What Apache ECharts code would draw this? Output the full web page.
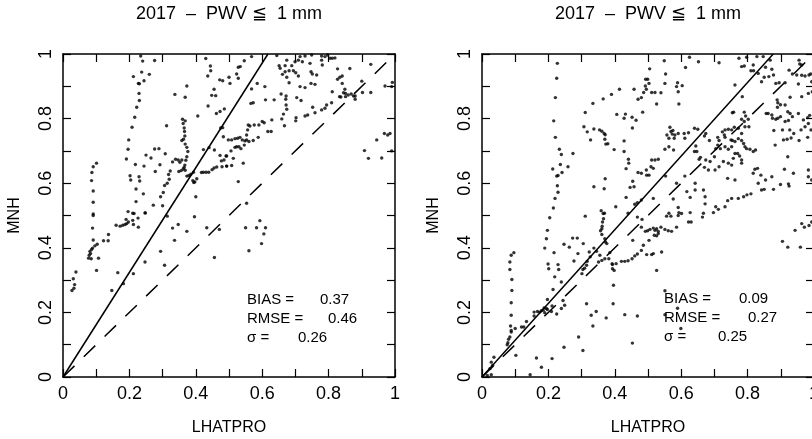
<!DOCTYPE html>
<html><head><meta charset="utf-8">
<script src="https://cdn.jsdelivr.net/npm/echarts@6/dist/echarts.min.js"></script>
<style>html,body{margin:0;padding:0;background:#fff}#c{width:812px;height:439px}</style>
</head><body><div id="c"></div>
<script>
const titleText = '2017  \u2013  PWV \u2266  1 mm';
const xName = 'LHATPRO';
const yName = 'MNH';
const axisMin = 0, axisMax = 1, axisStep = 0.2;
const leftStats = [['BIAS =', '0.37'], ['RMSE =', '0.46'], ['\u03c3 =', '0.26']];
const rightStats = [['BIAS =', '0.09'], ['RMSE =', '0.27'], ['\u03c3 =', '0.25']];
const leftFitSlope = 1.62;
const rightFitSlope = 1.14;
const identitySlope = 1;

const leftPoints = [
[0.234,0.994],[0.240,0.978],[0.276,0.980],[0.212,0.930],[0.237,0.944],[0.260,0.937],[0.244,0.917],[0.227,0.909],[0.230,0.908],[0.229,0.878],
[0.230,0.856],[0.222,0.835],[0.216,0.804],[0.208,0.773],[0.198,0.734],[0.196,0.705],[0.191,0.675],[0.218,0.658],[0.202,0.623],[0.204,0.610],
[0.229,0.620],[0.231,0.607],[0.220,0.582],[0.242,0.567],[0.220,0.543],[0.196,0.512],[0.210,0.507],[0.248,0.508],
[0.091,0.651],[0.101,0.662],[0.087,0.633],[0.086,0.608],[0.091,0.576],[0.091,0.541],[0.091,0.505],
[0.272,0.532],[0.300,0.530],[0.294,0.558],[0.302,0.571],[0.306,0.593],[0.314,0.600],[0.320,0.612],[0.318,0.627],[0.323,0.638],[0.330,0.666],
[0.339,0.674],[0.347,0.672],[0.352,0.665],[0.349,0.636],[0.356,0.639],[0.362,0.644],[0.368,0.640],[0.373,0.622],[0.379,0.624],[0.385,0.628],
[0.393,0.634],[0.391,0.608],[0.394,0.602],[0.397,0.604],[0.403,0.614],[0.400,0.558],[0.365,0.649],[0.367,0.656],[0.358,0.672],[0.370,0.671],
[0.373,0.682],[0.376,0.698],[0.373,0.711],[0.368,0.721],[0.363,0.736],[0.358,0.732],[0.367,0.746],[0.366,0.760],[0.365,0.771],[0.362,0.785],
[0.360,0.798],[0.368,0.793],[0.337,0.875],[0.368,0.866],[0.373,0.901],[0.406,0.808],[0.312,0.778],[0.289,0.707],[0.276,0.706],[0.250,0.687],
[0.265,0.678],[0.244,0.653],[0.292,0.657],[0.308,0.691],[0.278,0.636],
[0.430,0.986],[0.444,0.963],[0.445,0.948],[0.436,0.932],[0.472,0.920],[0.481,0.917],[0.455,0.891],[0.448,0.872],[0.460,0.871],[0.437,0.839],
[0.462,0.816],[0.473,0.822],[0.486,0.830],[0.481,0.772],[0.475,0.771],[0.483,0.744],[0.440,0.710],[0.423,0.704],[0.456,0.703],[0.473,0.686],
[0.491,0.684],[0.485,0.672],[0.477,0.669],[0.479,0.651],[0.493,0.653],[0.455,0.647],[0.463,0.650],[0.449,0.642],[0.439,0.634],[0.431,0.634],
[0.423,0.634],[0.417,0.633],
[0.546,0.979],[0.568,0.992],[0.644,0.995],[0.651,0.964],[0.669,0.964],[0.674,0.981],[0.689,0.964],[0.699,0.976],[0.709,0.981],[0.721,0.976],
[0.714,0.992],[0.729,0.994],[0.749,0.997],[0.744,0.971],[0.779,0.994],[0.779,0.981],[0.781,0.966],[0.789,0.992],[0.797,0.997],[0.804,0.987],
[0.811,0.987],[0.819,0.988],[0.827,0.954],[0.864,0.955],[0.927,0.968],[0.534,0.961],[0.528,0.959],[0.523,0.938],[0.500,0.928],[0.503,0.909],
[0.528,0.925],[0.568,0.892],[0.585,0.909],[0.608,0.899],[0.654,0.956],[0.669,0.945],[0.681,0.948],[0.694,0.948],[0.701,0.942],[0.661,0.937],
[0.674,0.928],[0.681,0.911],[0.709,0.932],[0.747,0.945],[0.751,0.938],[0.764,0.935],[0.747,0.909],[0.759,0.906],[0.714,0.899],[0.729,0.896],
[0.834,0.928],[0.841,0.932],[0.827,0.922],[0.841,0.909],[0.849,0.891],[0.851,0.878],[0.859,0.873],[0.868,0.876],[0.875,0.870],[0.880,0.870],
[0.880,0.860],[0.845,0.880],[0.833,0.868],[0.837,0.867],[0.851,0.868],[0.811,0.883],[0.900,0.916],[0.902,0.881],[0.927,0.881],[0.970,0.901],
[0.990,0.899],[0.992,0.912],[0.566,0.847],[0.573,0.849],[0.610,0.858],[0.636,0.858],[0.657,0.876],[0.672,0.870],[0.671,0.860],[0.704,0.865],
[0.717,0.856],[0.672,0.842],[0.674,0.829],[0.664,0.814],[0.659,0.799],[0.667,0.778],[0.702,0.803],[0.701,0.793],[0.729,0.808],[0.737,0.811],
[0.752,0.835],[0.759,0.818],[0.779,0.827],[0.794,0.842],[0.809,0.849],[0.789,0.832],
[0.558,0.780],[0.563,0.777],[0.576,0.780],[0.590,0.780],[0.600,0.791],[0.606,0.787],[0.629,0.796],[0.617,0.760],[0.627,0.760],[0.556,0.765],
[0.553,0.749],[0.498,0.734],[0.508,0.734],[0.518,0.738],[0.526,0.739],[0.533,0.742],[0.540,0.734],[0.548,0.731],[0.553,0.734],[0.560,0.729],
[0.573,0.732],[0.588,0.742],[0.523,0.713],[0.530,0.713],[0.518,0.711],[0.536,0.707],[0.546,0.718],[0.493,0.684],[0.506,0.700],[0.513,0.677],
[0.493,0.653],[0.508,0.655],[0.543,0.662],[0.528,0.605],[0.553,0.538],
[0.908,0.701],[0.920,0.677],[0.945,0.734],[0.960,0.678],[0.968,0.754],[0.978,0.749],[0.985,0.754],[0.990,0.700],
[0.091,0.500],[0.089,0.461],[0.091,0.424],[0.103,0.411],[0.096,0.406],[0.089,0.399],[0.086,0.395],[0.081,0.389],[0.083,0.382],[0.079,0.377],
[0.077,0.368],[0.085,0.366],[0.107,0.368],[0.101,0.330],[0.122,0.422],[0.136,0.422],[0.137,0.441],[0.160,0.470],[0.172,0.467],[0.180,0.470],
[0.187,0.472],[0.192,0.475],[0.197,0.480],[0.190,0.488],[0.210,0.485],[0.212,0.472],[0.227,0.464],[0.226,0.492],[0.214,0.506],[0.247,0.508],
[0.027,0.268],[0.033,0.275],[0.035,0.286],[0.039,0.325],[0.031,0.304],
[0.147,0.268],[0.165,0.323],[0.182,0.289],[0.212,0.320],[0.247,0.356],[0.294,0.389],[0.306,0.346],[0.314,0.498],[0.330,0.461],[0.347,0.472],
[0.336,0.423],[0.373,0.451],[0.396,0.496],[0.433,0.462],[0.471,0.457],[0.456,0.370],
[0.593,0.484],[0.550,0.462],[0.583,0.462],[0.610,0.462],[0.605,0.443],[0.598,0.413],[0.560,0.391]
];

const rightPoints = [
[0.227,0.971],[0.225,0.925],[0.221,0.865],[0.216,0.793],[0.221,0.742],[0.233,0.705],[0.239,0.689],[0.274,0.692],[0.236,0.658],[0.259,0.651],
[0.241,0.633],[0.229,0.624],[0.225,0.622],[0.213,0.644],[0.227,0.592],[0.229,0.572],[0.220,0.553],[0.215,0.523],
[0.311,0.819],[0.334,0.847],[0.365,0.861],[0.390,0.875],[0.414,0.891],[0.458,0.891],[0.470,0.860],[0.480,0.865],[0.487,0.881],[0.492,0.901],
[0.493,0.922],[0.484,0.820],[0.406,0.813],[0.428,0.801],[0.432,0.814],[0.452,0.804],[0.464,0.795],[0.453,0.771],[0.307,0.775],[0.317,0.759],
[0.327,0.734],[0.337,0.768],[0.354,0.765],[0.361,0.761],[0.368,0.754],[0.371,0.750],[0.370,0.736],[0.373,0.721],[0.379,0.722],[0.398,0.704],
[0.428,0.731],[0.428,0.698],[0.441,0.674],[0.442,0.662],[0.434,0.645],[0.470,0.633],[0.480,0.631],[0.495,0.641],[0.454,0.606],[0.458,0.589],
[0.446,0.587],[0.434,0.556],[0.337,0.589],[0.368,0.583],[0.371,0.614],[0.403,0.527],[0.359,0.515],[0.369,0.507],[0.440,0.507],[0.460,0.535],
[0.468,0.540],[0.480,0.548],
[0.549,0.979],[0.625,0.990],[0.652,0.976],[0.714,0.973],[0.613,0.958],[0.505,0.954],[0.499,0.922],[0.503,0.909],[0.553,0.938],[0.551,0.909],
[0.589,0.911],[0.586,0.899],[0.603,0.902],[0.591,0.883],[0.511,0.881],[0.521,0.881],[0.539,0.880],[0.495,0.891],[0.526,0.845],[0.593,0.845],
[0.774,0.987],[0.782,0.961],[0.790,0.963],[0.797,0.990],[0.817,0.966],[0.810,0.948],[0.818,0.948],[0.832,0.940],[0.828,0.992],[0.847,0.992],
[0.868,0.981],[0.854,0.959],[0.873,0.953],[0.878,0.935],[0.885,0.909],[0.895,0.911],[0.850,0.928],[0.842,0.914],[0.864,0.930],[0.913,0.911],
[0.955,0.981],[0.957,0.969],[0.963,0.966],[0.935,0.938],[0.948,0.935],[0.963,0.934],[0.973,0.932],[0.985,0.935],[0.990,0.938],[0.993,0.914],
[0.953,0.907],[0.925,0.950],[0.963,0.868],[0.983,0.878],[0.995,0.883],[0.889,0.858],[0.891,0.849],[0.899,0.843],[0.890,0.835],[0.913,0.842],
[0.928,0.866],[0.921,0.821],[0.928,0.816],[0.935,0.806],[0.923,0.794],[0.913,0.791],[0.899,0.806],[0.885,0.798],[0.875,0.801],[0.862,0.816],
[0.856,0.816],[0.873,0.811],[0.891,0.801],[0.879,0.763],[0.905,0.765],[0.919,0.736],[0.927,0.765],[0.931,0.740],[0.939,0.754],[0.955,0.732],
[0.961,0.765],[0.973,0.775],[0.983,0.785],[0.981,0.742],[0.991,0.765],[0.953,0.816],[0.968,0.796],[0.981,0.803],[0.987,0.810],[0.908,0.734],
[0.883,0.718],[0.921,0.682],[0.911,0.643],[0.938,0.631],[0.983,0.641],[0.983,0.620],[0.993,0.610],[0.923,0.598],[0.925,0.591],[0.899,0.596],
[0.878,0.581],[0.850,0.581],[0.842,0.579],[0.832,0.600],[0.822,0.643],[0.817,0.631],[0.830,0.646],
[0.762,0.904],[0.784,0.868],[0.754,0.818],[0.758,0.820],[0.790,0.820],[0.794,0.808],[0.782,0.798],[0.790,0.791],[0.802,0.798],[0.792,0.775],
[0.804,0.775],[0.772,0.770],[0.760,0.773],[0.752,0.765],[0.742,0.767],[0.732,0.765],[0.724,0.759],[0.730,0.749],[0.710,0.742],[0.732,0.742],
[0.714,0.732],[0.710,0.718],[0.704,0.707],[0.718,0.707],[0.732,0.713],[0.742,0.705],[0.750,0.734],[0.754,0.732],[0.762,0.729],[0.772,0.738],
[0.782,0.732],[0.788,0.723],[0.792,0.713],[0.797,0.707],[0.807,0.705],[0.817,0.698],[0.824,0.703],[0.782,0.754],[0.752,0.713],[0.762,0.692],
[0.770,0.692],[0.776,0.684],[0.782,0.672],[0.757,0.677],[0.752,0.656],[0.782,0.662],[0.700,0.682],[0.687,0.667],[0.674,0.672],[0.658,0.680],
[0.647,0.698],[0.644,0.715],[0.685,0.732],[0.670,0.746],[0.674,0.754],[0.650,0.767],[0.640,0.770],[0.622,0.756],[0.609,0.754],[0.591,0.754],
[0.575,0.763],[0.566,0.773],[0.569,0.760],[0.557,0.749],[0.563,0.739],[0.579,0.739],[0.573,0.752],[0.581,0.749],[0.563,0.713],[0.551,0.705],
[0.577,0.703],[0.511,0.672],[0.521,0.672],[0.531,0.674],[0.509,0.651],[0.516,0.646],[0.503,0.625],[0.496,0.625],[0.611,0.739],[0.640,0.698],
[0.654,0.674],[0.670,0.649],[0.682,0.641],[0.714,0.651],[0.727,0.667],[0.742,0.662],[0.702,0.641],[0.642,0.600],[0.617,0.574],[0.586,0.600],
[0.553,0.622],[0.611,0.622],[0.516,0.553],[0.576,0.551],[0.591,0.525],[0.627,0.556],[0.642,0.579],[0.667,0.579],[0.672,0.558],[0.672,0.536],
[0.704,0.527],[0.712,0.519],[0.732,0.527],[0.740,0.546],[0.752,0.553],[0.772,0.553],[0.788,0.558],[0.798,0.564],[0.810,0.567],[0.762,0.610],
[0.740,0.615],[0.840,0.625],[0.873,0.620],[0.854,0.610],[0.667,0.507],[0.627,0.509],[0.593,0.509],[0.563,0.507],
[0.365,0.506],[0.366,0.490],[0.363,0.480],[0.362,0.467],[0.361,0.459],[0.357,0.453],[0.361,0.441],[0.370,0.428],[0.372,0.418],[0.376,0.413],
[0.204,0.493],[0.311,0.498],[0.197,0.454],[0.194,0.428],[0.189,0.399],[0.199,0.350],[0.201,0.335],[0.217,0.385],[0.229,0.348],[0.231,0.333],
[0.247,0.411],[0.219,0.310],[0.239,0.294],[0.273,0.430],[0.287,0.430],[0.263,0.402],[0.305,0.413],[0.289,0.382],[0.277,0.359],[0.214,0.271],
[0.197,0.240],[0.244,0.237],[0.323,0.387],[0.326,0.372],[0.317,0.358],[0.315,0.346],[0.304,0.333],[0.301,0.320],[0.309,0.337],[0.337,0.399],
[0.345,0.389],[0.355,0.377],[0.351,0.356],[0.361,0.361],[0.370,0.366],[0.385,0.385],[0.382,0.366],[0.393,0.348],[0.393,0.335],[0.398,0.330],
[0.404,0.351],[0.392,0.351],[0.396,0.284],[0.420,0.358],[0.430,0.358],[0.440,0.360],[0.452,0.366],[0.460,0.375],[0.468,0.381],[0.480,0.392],
[0.486,0.408],[0.468,0.495],[0.482,0.488],[0.480,0.464],[0.492,0.451],[0.454,0.423],
[0.096,0.385],[0.088,0.377],[0.084,0.356],[0.084,0.333],[0.090,0.302],[0.090,0.268],[0.088,0.230],[0.088,0.191],[0.086,0.158],[0.088,0.139],
[0.084,0.124],[0.080,0.117],[0.078,0.106],[0.076,0.100],[0.088,0.144],[0.100,0.150],[0.102,0.067],[0.119,0.155],[0.134,0.172],[0.126,0.155],
[0.157,0.189],[0.167,0.203],[0.174,0.201],[0.179,0.205],[0.184,0.207],[0.187,0.214],[0.194,0.212],[0.197,0.209],[0.211,0.220],[0.157,0.201],
[0.189,0.199],[0.209,0.203],[0.225,0.195],[0.239,0.212],[0.249,0.222],
[0.036,0.061],[0.028,0.046],[0.032,0.036],[0.024,0.026],[0.016,0.005],[0.028,0.007],[0.164,0.059],[0.179,0.030],[0.211,0.057],[0.247,0.092],
[0.291,0.124],[0.304,0.082],[0.315,0.227],[0.329,0.191],[0.334,0.158],[0.344,0.203],[0.374,0.183],[0.395,0.227],[0.430,0.193],[0.468,0.189],
[0.453,0.105],[0.145,0.007],
[0.556,0.498],[0.569,0.498],[0.591,0.500],[0.601,0.506],[0.622,0.480],[0.630,0.480],[0.664,0.495],[0.697,0.509],[0.499,0.453],[0.506,0.457],
[0.516,0.461],[0.521,0.454],[0.526,0.459],[0.531,0.451],[0.539,0.464],[0.551,0.457],[0.561,0.453],[0.571,0.451],[0.586,0.464],[0.519,0.439],
[0.526,0.437],[0.531,0.444],[0.503,0.423],[0.496,0.379],[0.511,0.379],[0.516,0.382],[0.541,0.387],[0.526,0.330],[0.551,0.267],[0.551,0.193],
[0.599,0.150],[0.589,0.213],[0.905,0.420],[0.921,0.402],[0.943,0.454],[0.959,0.402],[0.963,0.475],[0.971,0.464],[0.985,0.469],[0.993,0.480]
];

const FONT = '"Liberation Sans", Arial, Helvetica, sans-serif';
const grids = [
  {left: 63, top: 54, width: 332, height: 323, outerBoundsMode: 'none', containLabel: false},
  {left: 482, top: 54, width: 332, height: 323, outerBoundsMode: 'none', containLabel: false}
];

function xAx(g, pos, labels) {
  return {
    type: 'value', gridIndex: g, position: pos, min: axisMin, max: axisMax, interval: axisStep,
    name: labels ? xName : '', nameLocation: 'middle', nameGap: 43,
    nameTextStyle: {fontFamily: FONT, fontSize: 16, color: '#000'},
    axisLine: {show: true, onZero: false, lineStyle: {color: '#000', width: 1.5}},
    axisTick: {show: true, inside: true, length: 8, lineStyle: {color: '#000', width: 1.2}},
    minorTick: {show: true, splitNumber: 2, length: 8, lineStyle: {color: '#000', width: 1.2}},
    axisLabel: {show: labels, margin: 8, fontFamily: FONT, fontSize: 18, color: '#000', hideOverlap: false},
    splitLine: {show: false}
  };
}
function yAx(g, pos, labels) {
  return {
    type: 'value', gridIndex: g, position: pos, min: axisMin, max: axisMax, interval: axisStep,
    name: labels ? yName : '', nameLocation: 'middle', nameGap: 40,
    nameTextStyle: {fontFamily: FONT, fontSize: 16, color: '#000'},
    axisLine: {show: true, onZero: false, lineStyle: {color: '#000', width: 1.5}},
    axisTick: {show: true, inside: true, length: 8, lineStyle: {color: '#000', width: 1.2}},
    minorTick: {show: true, splitNumber: 2, length: 8, lineStyle: {color: '#000', width: 1.2}},
    axisLabel: {show: labels, rotate: 90, margin: 8, fontFamily: FONT, fontSize: 18, color: '#000', hideOverlap: false},
    splitLine: {show: false}
  };
}

function statGraphics(stats, x0, valueXs, y0) {
  const out = [];
  stats.forEach((s, i) => {
    out.push({type: 'text', left: x0, top: y0 + i * 19, style: {text: s[0], font: '15px ' + FONT, fill: '#000'}});
    out.push({type: 'text', left: valueXs[i], top: y0 + i * 19, style: {text: s[1], font: '15px ' + FONT, fill: '#000'}});
  });
  return out;
}

function lineSeries(xi, slope, dashed) {
  const xEnd = Math.min(axisMax, axisMax / slope);
  return {
    type: 'line', xAxisIndex: xi, yAxisIndex: xi, data: [[0, 0], [xEnd, slope * xEnd]],
    symbol: 'none', silent: true, animation: false,
    lineStyle: {color: '#000', width: 1.5, type: dashed ? [16, 13] : 'solid'}
  };
}
function scatterSeries(xi, pts) {
  return {type: 'scatter', xAxisIndex: xi, yAxisIndex: xi, data: pts, symbol: 'circle', symbolSize: 3.4,
    itemStyle: {color: '#000'}, animation: false, silent: true};
}

const chart = echarts.init(document.getElementById('c'), null, {renderer: 'canvas'});
chart.setOption({
  backgroundColor: '#fff',
  animation: false,
  grid: grids,
  xAxis: [xAx(0, 'bottom', true), xAx(0, 'top', false), xAx(1, 'bottom', true), xAx(1, 'top', false)],
  yAxis: [yAx(0, 'left', true), yAx(0, 'right', false), yAx(1, 'left', true), yAx(1, 'right', false)],
  series: [
    scatterSeries(0, leftPoints),
    lineSeries(0, leftFitSlope, false),
    lineSeries(0, identitySlope, true),
    scatterSeries(2, rightPoints),
    lineSeries(2, rightFitSlope, false),
    lineSeries(2, identitySlope, true)
  ],
  graphic: [
    {type: 'text', x: 229, y: 14, style: {text: titleText, font: '18px ' + FONT, fill: '#000', align: 'center', verticalAlign: 'middle'}},
    {type: 'text', x: 648, y: 14, style: {text: titleText, font: '18px ' + FONT, fill: '#000', align: 'center', verticalAlign: 'middle'}}
  ].concat(statGraphics(leftStats, 247, [320, 328, 298], 292))
   .concat(statGraphics(rightStats, 664, [739, 748, 718], 291))
});
</script></body></html>
